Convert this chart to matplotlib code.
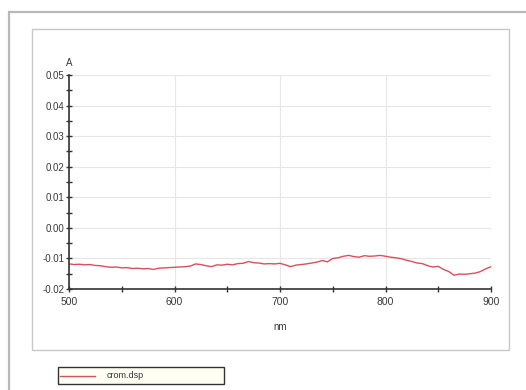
import matplotlib
matplotlib.use("Agg")
import matplotlib.pyplot as plt
from matplotlib.patches import Rectangle
from matplotlib.lines import Line2D
import numpy as np

wavelength = list(range(500, 901, 5))
absorbance = [
    -0.0118, -0.0120, -0.0119, -0.0121, -0.0120, -0.0123, -0.0124, -0.0127, -0.0129, -0.0128,
    -0.0131, -0.0130, -0.0133, -0.0132, -0.0134, -0.0133, -0.0136, -0.0132, -0.0131, -0.0130,
    -0.0129, -0.0128, -0.0127, -0.0125, -0.0118, -0.0120, -0.0124, -0.0127, -0.0121, -0.0122,
    -0.0119, -0.0121, -0.0117, -0.0116, -0.0110, -0.0114, -0.0115, -0.0118, -0.0117, -0.0118,
    -0.0116, -0.0121, -0.0127, -0.0122, -0.0120, -0.0118, -0.0115, -0.0112, -0.0107, -0.0111,
    -0.0100, -0.0098, -0.0093, -0.0090, -0.0094, -0.0096, -0.0091, -0.0093, -0.0092, -0.0090,
    -0.0093, -0.0096, -0.0098, -0.0101, -0.0106, -0.0110, -0.0115, -0.0117, -0.0124, -0.0128,
    -0.0126, -0.0136, -0.0143, -0.0155, -0.0151, -0.0152, -0.0150, -0.0148, -0.0143, -0.0134,
    -0.0127,
]
series_name = "crom.dsp"
x_ticks = [500, 600, 700, 800, 900]
y_ticks = [-0.02, -0.01, 0.00, 0.01, 0.02, 0.03, 0.04, 0.05]
y_labels = ["-0.02", "-0.01", "0.00", "0.01", "0.02", "0.03", "0.04", "0.05"]

W, H = 526, 390
plt.rcParams['font.family'] = ['Liberation Sans', 'DejaVu Sans']
fig = plt.figure(figsize=(W / 100, H / 100), dpi=100)

def fx(px):
    return px / W

def fy(py):
    return 1 - py / H

# outer frame
fig.patches.append(Rectangle((fx(9), fy(400)), fx(530) - fx(9), fy(12) - fy(400),
                             transform=fig.transFigure, fill=False,
                             edgecolor='#b8b8b8', linewidth=1.6))
# inner frame
fig.patches.append(Rectangle((fx(32), fy(350)), fx(509) - fx(32), fy(29) - fy(350),
                             transform=fig.transFigure, fill=False,
                             edgecolor='#c8c8c8', linewidth=1.0))

ax = fig.add_axes([fx(69), fy(289), fx(491) - fx(69), fy(75) - fy(289)])
ax.plot(wavelength, absorbance, color='#d8505a', linewidth=1.0)
ax.set_xlim(500, 900)
ax.set_ylim(-0.02, 0.05)
ax.set_xticks(x_ticks)
ax.set_xticks(list(range(550, 900, 100)), minor=True)
ax.set_yticks(y_ticks)
ax.set_yticklabels(y_labels)
ax.set_yticks([-0.015, -0.005, 0.005, 0.015, 0.025, 0.035, 0.045], minor=True)
ax.grid(True, which='major', color='#e6e6e6', linewidth=0.8)
ax.set_axisbelow(True)
for s in ['top', 'right']:
    ax.spines[s].set_visible(False)
for s in ['left', 'bottom']:
    ax.spines[s].set_color('#333333')
    ax.spines[s].set_linewidth(1.2)
ax.tick_params(which='both', direction='inout', length=5, width=1.0, color='#333333',
               labelsize=7, labelcolor='#3a3a3a')
ax.tick_params(axis='x', which='major', pad=3, labelsize=7.5)
ax.tick_params(axis='y', which='major', pad=1)

fig.text(fx(69), fy(63), "A", ha='center', va='center', fontsize=7, color='#3a3a3a')
fig.text(fx(280), fy(327), "nm", ha='center', va='center', fontsize=7, color='#3a3a3a')

# legend box
fig.patches.append(Rectangle((fx(58), fy(384)), fx(224) - fx(58), fy(367) - fy(384),
                             transform=fig.transFigure, facecolor='#fffff4',
                             edgecolor='#333333', linewidth=1.0))
fig.lines.append(Line2D([fx(60), fx(95)], [fy(375.5), fy(375.5)], transform=fig.transFigure,
                        color='#d8505a', linewidth=1.0))
fig.text(fx(107), fy(375.5), series_name, ha='left', va='center', fontsize=6.5, color='#333333')

fig.savefig("out.png", dpi=100)
